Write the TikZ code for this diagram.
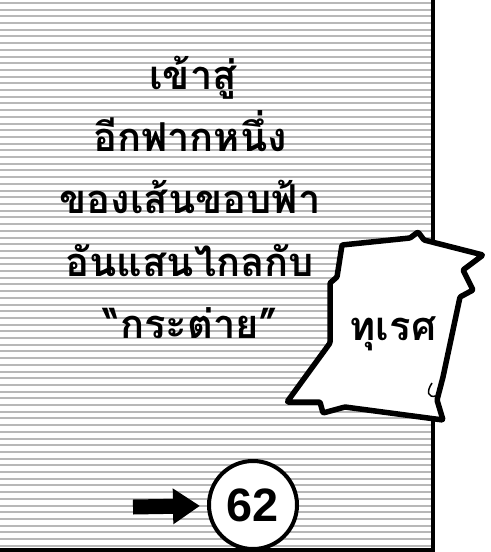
\documentclass[tikz,border=0pt]{standalone}
\usepackage{fontspec}
\setmainfont{Liberation Sans}
\newfontfamily\thaifont[Script=Thai]{Loma}
\usetikzlibrary{positioning, arrows.meta}

\tikzset{
  hatch/.style={black!28, line width=2bp},
  panel/.style={line width=4bp},
  caption/.style={font=\thaifont\bfseries\fontsize{40}{40}\selectfont, anchor=base, inner sep=0pt},
  tag/.style={fill=white, line width=5.5bp, line join=round, rounded corners=1bp},
  pagenum/.style={circle, draw, line width=4bp, fill=white, minimum size=88bp, inner sep=0pt, font=\bfseries\fontsize{47}{47}\selectfont},
}

\begin{document}
\begin{tikzpicture}[x=1bp, y=-1bp]
    \useasboundingbox (0,0) rectangle (491,552);
    \fill[white] (0,0) rectangle (491,552);

    % screen tone
    \foreach \ty in {3,9.7,...,548}
        \draw[hatch] (0,\ty) -- (431,\ty);

    % panel frame
    \draw[panel] (433,0) -- (433,550) -- (0,550);

    \node[caption] (l1) at (193,90) {เข้าสู่};
    \node[caption] (l2) at (190,152) {อีกฟากหนึ่ง};
    \node[caption] (l3) at (190,214) {ของเส้นขอบฟ้า};
    \node[caption] (l4) at (190,276) {อันแสนไกลกับ};
    \node[caption] (l5) at (191,338) {“กระต่าย”};

    % torn paper
    \draw[tag] (342,245) -- (410,238) -- (418,232) -- (424,240) -- (483,255)
        -- (463,270) -- (473,290) -- (460,297) -- (443,377) -- (437,400)
        -- (443,420) -- (345,407) -- (323,413) -- (320,402) -- (287,402)
        -- (330,343) -- (330,283) -- (337,277) -- cycle;
    \draw[line width=1.5bp] (432,383) .. controls (426,392) and (428,398) .. (436,396);
    \node[caption] (tag) at (393,340) {ทุเรศ};

    \node[pagenum] (num) at (253,505) {62};
    \coordinate (tail) at (133,507);
    \draw[line width=15bp, -{Triangle[length=27bp, width=34bp]}, shorten >=7bp] (tail) -- (num);
\end{tikzpicture}
\end{document}
